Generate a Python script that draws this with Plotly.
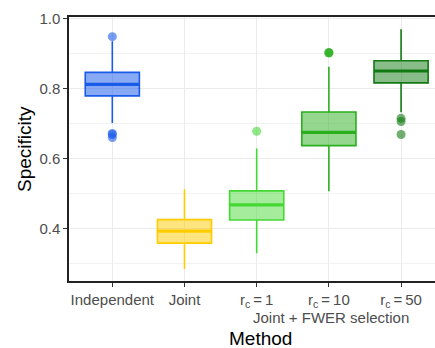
import plotly.graph_objects as go

categories = ["Independent", "Joint", "r<sub>c</sub>\u2009=\u20091", "r<sub>c</sub>\u2009=\u200910", "r<sub>c</sub>\u2009=\u200950"]
lower_whisker = [0.702, 0.285, 0.330, 0.507, 0.732]
q1 = [0.779, 0.359, 0.425, 0.637, 0.816]
median = [0.812, 0.393, 0.468, 0.675, 0.850]
q3 = [0.846, 0.426, 0.508, 0.733, 0.879]
upper_whisker = [0.935, 0.513, 0.629, 0.862, 0.969]
outliers = [[0.948, 0.672, 0.669, 0.660], [], [0.678], [0.903, 0.901], [0.715, 0.706, 0.669]]

line_colors = ["#1A5BEA", "#FFCC00", "#44D833", "#2BAF1F", "#127A12"]
fill_colors = ["rgba(26,91,234,0.52)", "rgba(255,204,0,0.5)", "rgba(68,216,51,0.48)",
               "rgba(43,175,31,0.5)", "rgba(18,122,18,0.5)"]
point_colors = ["rgba(26,91,234,0.6)", "rgba(255,204,0,0.6)", "rgba(68,216,51,0.6)",
                "rgba(43,175,31,0.75)", "rgba(18,122,18,0.6)"]

BOX_W = 0.75
fig = go.Figure()
for i in range(len(categories)):
    fig.add_trace(go.Box(
        x=[i], q1=[q1[i]], median=[median[i]], q3=[q3[i]],
        lowerfence=[lower_whisker[i]], upperfence=[upper_whisker[i]],
        width=BOX_W, whiskerwidth=0,
        line=dict(color=line_colors[i], width=1.6),
        fillcolor=fill_colors[i], boxpoints=False, showlegend=False,
        hoverinfo="skip"))
    fig.add_trace(go.Scatter(
        x=[i - BOX_W / 2, i + BOX_W / 2], y=[median[i], median[i]],
        mode="lines", line=dict(color=line_colors[i], width=3.2),
        showlegend=False, hoverinfo="skip"))
    if outliers[i]:
        fig.add_trace(go.Scatter(
            x=[i] * len(outliers[i]), y=outliers[i], mode="markers",
            marker=dict(color=point_colors[i], size=9, line=dict(width=0)),
            showlegend=False, hoverinfo="skip"))

font = "Liberation Sans, Arial, sans-serif"
fig.update_layout(
    width=435, height=348,
    margin=dict(l=69, r=0, t=17, b=67, autoexpand=False),
    paper_bgcolor="white", plot_bgcolor="white",
    font=dict(family=font, color="#4D4D4D", size=14),
    xaxis=dict(
        range=[-0.6, 4.47], tickmode="array", tickvals=list(range(5)),
        ticktext=categories, showgrid=True, gridcolor="#EBEBEB", gridwidth=1.3,
        showline=True, linecolor="#222222", linewidth=1.5, mirror=True,
        ticks="outside", ticklen=4, tickcolor="#333333", tickwidth=1.2,
        tickfont=dict(size=15, color="#4D4D4D"), zeroline=False, automargin=False),
    yaxis=dict(
        range=[0.251, 1.004], tickmode="array", tickvals=[0.4, 0.6, 0.8, 1.0],
        ticktext=["0.4", "0.6", "0.8", "1.0"],
        showgrid=True, gridcolor="#EBEBEB", gridwidth=1.3,
        minor=dict(tickvals=[0.3, 0.5, 0.7, 0.9], showgrid=True,
                   gridcolor="#F2F2F2", gridwidth=0.8, ticks=""),
        showline=True, linecolor="#222222", linewidth=1.5, mirror=False,
        ticks="outside", ticklen=4, tickcolor="#333333", tickwidth=1.2,
        tickfont=dict(size=15, color="#4D4D4D"), zeroline=False, automargin=False),
    annotations=[
        dict(text="Joint + FWER selection", xref="x", yref="paper", x=3.03, y=0,
             yshift=-36, showarrow=False, font=dict(size=15, color="#4D4D4D"),
             xanchor="center", yanchor="middle"),
        dict(text="Method", xref="x", yref="paper", x=2.05, y=0,
             yshift=-57, showarrow=False, font=dict(size=19, color="black"),
             xanchor="center", yanchor="middle"),
        dict(text="Specificity", xref="paper", yref="paper", x=0, y=0.5,
             xshift=-45, textangle=-90, showarrow=False,
             font=dict(size=19, color="black"), xanchor="center", yanchor="middle"),
    ],
)

fig.write_html("out.html", config={"displayModeBar": False},
               post_script="document.body.style.margin='0';document.body.style.overflow='hidden';")
